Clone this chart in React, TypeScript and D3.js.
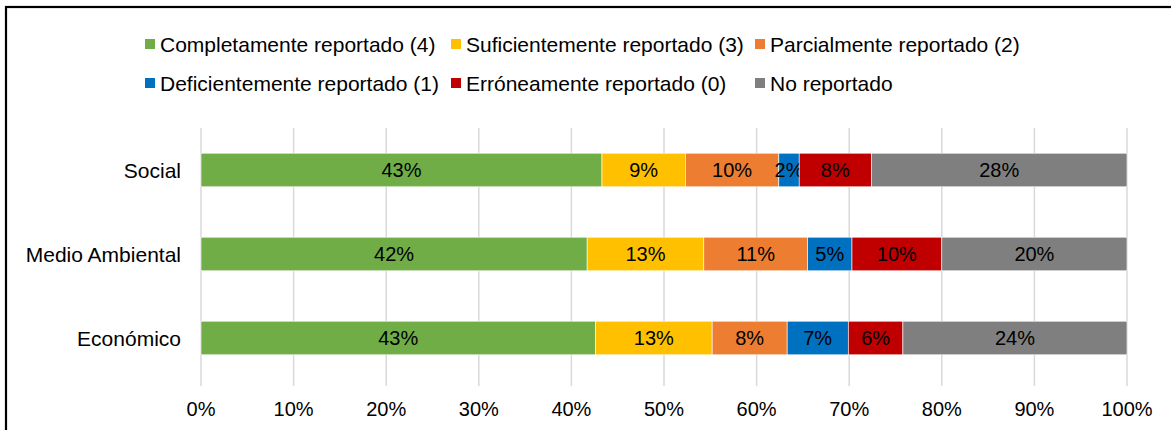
import React, { useEffect, useRef } from 'react';
import * as d3 from 'd3';

const categories = ['Social', 'Medio Ambiental', 'Económico'];
const seriesNames = [
  'Completamente reportado (4)',
  'Suficientemente reportado (3)',
  'Parcialmente reportado (2)',
  'Deficientemente reportado (1)',
  'Erróneamente reportado (0)',
  'No reportado',
];
const seriesColors = ['#70AD47', '#FFC000', '#ED7D31', '#0070C0', '#C00000', '#7F7F7F'];
// one array per series, in category order
const completo = [43.3, 41.7, 42.6];
const suficiente = [9.0, 12.6, 12.6];
const parcial = [10.1, 11.2, 8.1];
const deficiente = [2.2, 4.8, 6.6];
const erroneo = [7.8, 9.7, 5.9];
const noReportado = [27.6, 20.0, 24.2];
const xTicks = [0, 0.1, 0.2, 0.3, 0.4, 0.5, 0.6, 0.7, 0.8, 0.9, 1];

const W = 1171;
const H = 430;

export default function App() {
  const svgRef = useRef<SVGSVGElement>(null);

  useEffect(() => {
    const svg = d3.select(svgRef.current);
    svg.selectAll('*').remove();
    const font = 'Liberation Sans, Arial, sans-serif';

    // chart frame
    svg.append('rect')
      .attr('x', 6).attr('y', 7).attr('width', 1200).attr('height', 460)
      .attr('fill', 'white').attr('stroke', '#000').attr('stroke-width', 2.2);

    const allSeries = [completo, suficiente, parcial, deficiente, erroneo, noReportado];
    const rows = categories.map((c, i) => {
      const r: any = { cat: c };
      seriesNames.forEach((s, j) => { r[s] = allSeries[j][i]; });
      return r;
    });
    const stacked = d3.stack().keys(seriesNames).offset(d3.stackOffsetExpand)(rows);

    const x = d3.scaleLinear().domain([0, 1]).range([201, 1127]);
    const y = d3.scaleBand().domain(categories).range([128, 380]).paddingInner(0.6).paddingOuter(0.3);

    // gridlines
    svg.append('g').selectAll('line').data(xTicks).enter().append('line')
      .attr('x1', d => x(d)).attr('x2', d => x(d))
      .attr('y1', 128).attr('y2', 386)
      .attr('stroke', '#D9D9D9').attr('stroke-width', 1.5);

    // bars
    stacked.forEach((layer, j) => {
      const g = svg.append('g');
      g.selectAll('rect').data(layer).enter().append('rect')
        .attr('x', d => x(d[0]))
        .attr('y', d => y((d as any).data.cat)!)
        .attr('width', d => x(d[1]) - x(d[0]))
        .attr('height', y.bandwidth())
        .attr('fill', seriesColors[j])
        .attr('stroke', '#ffffff').attr('stroke-width', 0.6);
      g.selectAll('text').data(layer).enter().append('text')
        .attr('x', d => (x(d[0]) + x(d[1])) / 2)
        .attr('y', d => y((d as any).data.cat)! + y.bandwidth() / 2)
        .attr('dy', '0.36em')
        .attr('text-anchor', 'middle')
        .attr('font-family', font).attr('font-size', 20).attr('fill', '#000')
        .text(d => Math.round((d[1] - d[0]) * 100) + '%');
    });

    // category labels
    svg.append('g').selectAll('text').data(categories).enter().append('text')
      .attr('x', 181)
      .attr('y', d => y(d)! + y.bandwidth() / 2)
      .attr('dy', '0.36em')
      .attr('text-anchor', 'end')
      .attr('font-family', font).attr('font-size', 21).attr('fill', '#000')
      .text(d => d);

    // x tick labels
    svg.append('g').selectAll('text').data(xTicks).enter().append('text')
      .attr('x', d => x(d))
      .attr('y', 409)
      .attr('dy', '0.36em')
      .attr('text-anchor', 'middle')
      .attr('font-family', font).attr('font-size', 20).attr('fill', '#000')
      .text(d => Math.round(d * 100) + '%');

    // legend, 3 columns x 2 rows
    const colX = [160, 466, 770];
    const rowY = [44, 83];
    seriesNames.forEach((s, i) => {
      const lx = colX[i % 3];
      const ly = rowY[Math.floor(i / 3)];
      const g = svg.append('g').attr('transform', `translate(${lx},${ly})`);
      g.append('rect').attr('x', -15).attr('y', -5).attr('width', 10).attr('height', 10)
        .attr('fill', seriesColors[i]);
      g.append('text').attr('x', 0).attr('y', 0).attr('dy', '0.36em')
        .attr('font-family', font).attr('font-size', 21).attr('fill', '#000')
        .text(s);
    });
  }, []);

  return (
    <div style={{ position: 'absolute', left: 0, top: 0 }}>
      <svg ref={svgRef} width={W} height={H} style={{ display: 'block', background: 'white' }} />
    </div>
  );
}
